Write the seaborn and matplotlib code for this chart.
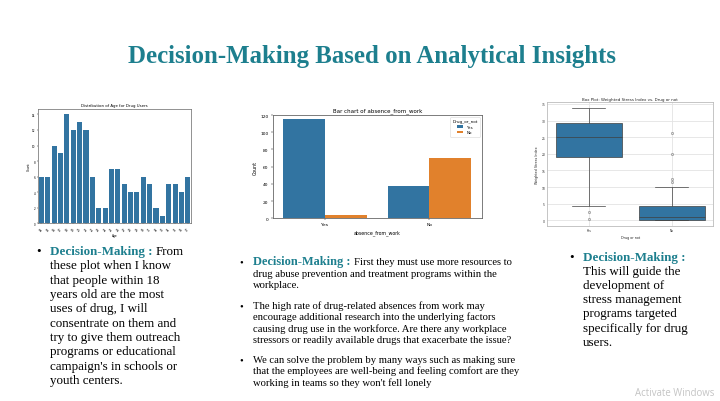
import matplotlib
matplotlib.use("Agg")
import matplotlib.pyplot as plt
import seaborn as sns
import pandas as pd

# ---------------- data ----------------
age_labels = [str(a) for a in range(14, 38)]
age_counts = [6, 6, 10, 9, 14, 12, 13, 12, 6, 2, 2, 7, 7, 5, 4, 4, 6, 5, 2, 1, 5, 5, 4, 6]

absence_cats = ["Yes", "Yes", "No", "No"]
drug_cats = ["Yes", "No", "Yes", "No"]
absence_counts = [115, 4, 38, 70]

stress_yes = [0.5, 2.5, 4.4, 14, 19, 20, 22, 24, 25, 26, 27, 28, 29.2, 30, 31, 32, 33.8]
stress_no = [0, 0, 0, 0.1, 0.1, 0.15, 0.2, 0.3, 0.4, 0.5, 0.6, 0.8, 1.0,
             1.5, 2, 2.5, 3, 3.6, 4.2, 6, 10, 11.6, 12.3, 19.9, 26.3]

W, H = 720, 402
fig = plt.figure(figsize=(7.2, 4.02), dpi=100)
fig.patch.set_facecolor("white")

def axrect(l, r, t, b):
    return [l / W, 1 - b / H, (r - l) / W, (b - t) / H]

def fx(x):
    return x / W

def fy(y):
    return 1 - y / H

TEAL = "#1d7f8e"
SERIF = "Liberation Serif"
BLUE = "#1f77b4"
ORANGE = "#ff7f0e"

# ---------------- chart 1: age distribution ----------------
ax1 = fig.add_axes(axrect(38.3, 191, 110, 224.3))
df_age = pd.DataFrame({"Age": age_labels, "Count": age_counts})
sns.barplot(data=df_age, x="Age", y="Count", color=BLUE, ax=ax1)
ax1.set_title("Distribution of Age for Drug Users", fontsize=2.8, pad=2)
ax1.set_xlabel("Age", fontsize=2.2, labelpad=1)
ax1.set_ylabel("Count", fontsize=2.2, labelpad=1)
ax1.set_yticks(range(0, 15, 2))
ax1.tick_params(axis="both", labelsize=2.0, length=1, width=0.3, pad=1)
ax1.tick_params(axis="x", rotation=45)
for s in ax1.spines.values():
    s.set_linewidth(0.5)
    s.set_color("#666666")

# ---------------- chart 2: absence from work ----------------
ax2 = fig.add_axes(axrect(272.7, 481.7, 116, 219.3))
df_abs = pd.DataFrame({"absence_from_work": absence_cats,
                       "Drug_or_not": drug_cats,
                       "Count": absence_counts})
sns.barplot(data=df_abs, x="absence_from_work", y="Count", hue="Drug_or_not",
            hue_order=["Yes", "No"], palette=[BLUE, ORANGE], ax=ax2)
ax2.set_title("Bar chart of absence_from_work", fontsize=4.0, pad=2.5)
ax2.set_xlabel("absence_from_work", fontsize=3.4, labelpad=2)
ax2.set_ylabel("Count", fontsize=3.4, labelpad=2)
ax2.set_yticks(range(0, 121, 20))
ax2.set_ylim(0, 120)
ax2.tick_params(axis="both", labelsize=3.2, length=1.5, width=0.3, pad=1.5)
for s in ax2.spines.values():
    s.set_linewidth(0.6)
    s.set_color("#666666")
leg = ax2.legend(title="Drug_or_not", fontsize=3.0, title_fontsize=3.0,
                 loc="upper right", handlelength=1.6, handleheight=0.6,
                 borderpad=0.5, labelspacing=0.4, frameon=True)
leg.get_frame().set_linewidth(0.4)

# ---------------- chart 3: box plot ----------------
with sns.axes_style("whitegrid"):
    ax3 = fig.add_axes(axrect(547.3, 713.3, 103.3, 227))
df_st = pd.DataFrame({
    "Drug or not": ["Yes"] * len(stress_yes) + ["No"] * len(stress_no),
    "Weighted Stress Index": stress_yes + stress_no,
})
sns.boxplot(data=df_st, x="Drug or not", y="Weighted Stress Index",
            order=["Yes", "No"], color=BLUE, linewidth=0.5, ax=ax3,
            flierprops=dict(marker="o", markersize=1.6, markerfacecolor="none",
                            markeredgecolor="#777777", markeredgewidth=0.4))
ax3.set_title("Box Plot: Weighted Stress Index vs. Drug or not", fontsize=2.9, pad=2)
ax3.set_xlabel("Drug or not", fontsize=2.4, labelpad=2)
ax3.set_ylabel("Weighted Stress Index", fontsize=2.4, labelpad=1.5)
ax3.set_yticks(range(0, 36, 5))
ax3.grid(True, color="#e3e3e3", linewidth=0.6)
ax3.tick_params(axis="both", labelsize=2.2, length=0, pad=1.5)
for s in ax3.spines.values():
    s.set_linewidth(0.6)
    s.set_color("#bbbbbb")

# ---------------- slide title ----------------
fig.text(fx(371.5), fy(57), "Decision-Making Based on Analytical Insights",
         ha="center", va="center", fontsize=17.9, fontweight="bold",
         color=TEAL, family=SERIF)

# ---------------- text blocks ----------------
def first_line(x, y, bold_size, rest, rest_size):
    t1 = fig.text(fx(x), fy(y), "Decision-Making : ", fontsize=bold_size,
                  fontweight="bold", color=TEAL, family=SERIF, va="baseline")
    if rest:
        fig.add_artist(matplotlib.text.Annotation(
            rest, xy=(1, fy(y)), xycoords=(t1, "figure fraction"),
            fontsize=rest_size, color="black", family=SERIF,
            va="baseline", ha="left", annotation_clip=False))
    return t1

def lines(x, y0, step, texts, size):
    for i, t in enumerate(texts):
        fig.text(fx(x), fy(y0 + i * step), t, fontsize=size, color="black",
                 family=SERIF, va="baseline")

def bullet(x, y, size):
    fig.text(fx(x), fy(y), "\u2022", fontsize=size, color="black",
             family=SERIF, va="baseline")

# block 1
S1 = 9.4
bullet(36.5, 255, S1)
first_line(50, 255, S1, "From", S1)
lines(50, 255 + 14.33, 14.33, [
    "these plot when I know",
    "that people within 18",
    "years old are the most",
    "uses of drug, I will",
    "consentrate on them and",
    "try to give them outreach",
    "programs or educational",
    "campaign's in schools or",
    "youth centers.",
], S1)

# block 2
S2 = 7.65
bullet(239.5, 265, S2)
first_line(253.3, 265, 8.9, "First they must use more resources to", S2)
lines(253.3, 276.7, 11.5, [
    "drug abuse prevention and treatment programs within the",
    "workplace.",
], S2)
bullet(239.5, 309, S2)
lines(253.3, 309, 11.45, [
    "The high rate of drug-related absences from work may",
    "encourage additional research into the underlying factors",
    "causing drug use in the workforce. Are there any workplace",
    "stressors or readily available drugs that exacerbate the issue?",
], S2)
bullet(239.5, 363.3, S2)
lines(253.3, 363.3, 11.2, [
    "We can solve the problem by many ways such as making sure",
    "that the employees are well-being and feeling comfort are they",
    "working in teams so they won't fell lonely",
], S2)

# block 3
S3 = 9.4
bullet(569, 260.7, S3)
first_line(582.7, 260.7, S3, "", S3)
lines(582.7, 260.7 + 14.2, 14.2, [
    "This will guide the",
    "development of",
    "stress management",
    "programs targeted",
    "specifically for drug",
    "users.",
], S3)

fig.text(fx(635), fy(394), "Activate Windows", fontsize=6.9, color="#c4c4c4",
         family="Open Sans", va="center", ha="left")

fig.savefig("out.png", dpi=100, facecolor="white")
